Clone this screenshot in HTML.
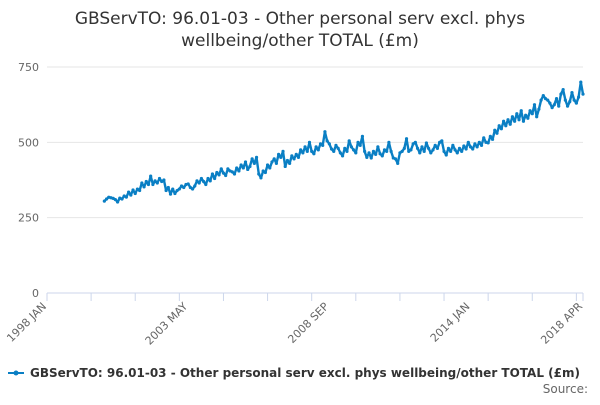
<!DOCTYPE html>
<html><head><meta charset="utf-8"><style>
body{margin:0;background:#fff;font-family:"Liberation Sans","DejaVu Sans",sans-serif}
svg text{font-family:"DejaVu Sans","Liberation Sans",sans-serif}
</style></head><body>
<svg id="chart" width="600" height="400" viewBox="0 0 600 400">
<text x="300" y="24" text-anchor="middle" font-size="17" fill="#333">GBServTO: 96.01-03 - Other personal serv excl. phys</text>
<text x="300" y="46" text-anchor="middle" font-size="17" fill="#333">wellbeing/other TOTAL (£m)</text>
<g id="grid"></g><g id="xaxis"></g><g id="series"></g>
<g>
<line x1="8" y1="373" x2="24" y2="373" stroke="#0a7fc4" stroke-width="2"/>
<circle cx="16" cy="373" r="2.5" fill="#0a7fc4"/>
<text x="30" y="377" font-size="12" font-weight="bold" fill="#333">GBServTO: 96.01-03 - Other personal serv excl. phys wellbeing/other TOTAL (£m)</text>
</g>
<text x="588" y="393" text-anchor="end" font-size="12" fill="#666">Source:</text>
</svg>
<script>
const yTicks=[0,250,500,750];
const xTickMonths=[0,64,128,192,243];
const xTickLabels=["1998 JAN","2003 MAY","2008 SEP","2014 JAN","2018 APR"];
const startMonth=26;
const values=[305,312,318,316,314,310,302,315,312,322,
318,335,325,342,330,345,340,365,352,370,360,388,
360,372,365,380,370,375,340,350,328,345,330,340,
345,355,350,360,362,350,345,355,372,365,380,370,
360,380,372,395,380,400,392,412,398,390,412,405,
402,395,415,405,425,415,435,410,420,445,430,450,
395,382,405,400,425,415,435,445,430,460,450,470,
420,440,430,455,445,460,450,475,465,485,470,500,
470,462,485,475,495,490,535,505,495,478,470,490,
480,465,455,480,470,505,485,475,465,500,490,520,
470,450,465,448,470,460,485,462,455,475,470,500,
470,448,445,430,465,470,480,512,470,475,495,500,
480,465,485,470,498,480,465,475,490,480,500,505,
470,458,480,470,490,475,465,480,470,488,478,500,
485,478,495,485,500,490,515,500,498,520,510,540,
530,555,545,570,555,575,560,585,570,595,575,605,
570,590,580,605,595,625,585,610,640,655,645,640,
630,615,625,645,620,660,675,640,620,635,665,640,
630,650,700,660];
const NS="http://www.w3.org/2000/svg";
const X0=47,X1=583,Y0=293,Y1=67;
const xs=m=>X0+m/243*(X1-X0);
const ys=v=>Y0-v/750*(Y0-Y1);
function mk(t,a,p){const e=document.createElementNS(NS,t);for(const k in a)e.setAttribute(k,a[k]);p.appendChild(e);return e;}
const grid=document.getElementById('grid'),xa=document.getElementById('xaxis'),se=document.getElementById('series');
yTicks.forEach(v=>{
 const l=mk('line',{x1:X0,x2:X1,y1:ys(v),y2:ys(v),stroke:v===0?'#ccd6eb':'#e6e6e6','stroke-width':1},grid);
 
 
 const t=mk('text',{x:X0-8,y:ys(v)+4,'text-anchor':'end','font-size':11,fill:'#666'},grid);
 t.textContent=v;
 
 
});
for(let m=0;m<=240;m+=20){
 const l=mk('line',{x1:xs(m),x2:xs(m),y1:Y0,y2:Y0+8,stroke:'#ccd6eb'},xa);
 
 
}
mk('line',{x1:xs(243),x2:xs(243),y1:Y0,y2:Y0+8,stroke:'#ccd6eb'},xa);
xTickMonths.forEach((m,i)=>{
 const x=xs(m),y=Y0+14;
 const t=mk('text',{x:x,y:y,'text-anchor':'end','font-size':11,fill:'#666',transform:`rotate(-45 ${x} ${y})`},xa);
 t.textContent=xTickLabels[i];
 
 
});
const pts=values.map((v,i)=>xs(startMonth+i).toFixed(1)+','+ys(v).toFixed(1)).join(' ');
const pl=mk('polyline',{points:pts,fill:'none',stroke:'#0a7fc4','stroke-width':2.4,'stroke-linejoin':'round'},se);


values.forEach((v,i)=>{
 const c=mk('circle',{cx:xs(startMonth+i),cy:ys(v),r:1.6,fill:'#0a7fc4'},se);
 
 
});
</script>
</body></html>
